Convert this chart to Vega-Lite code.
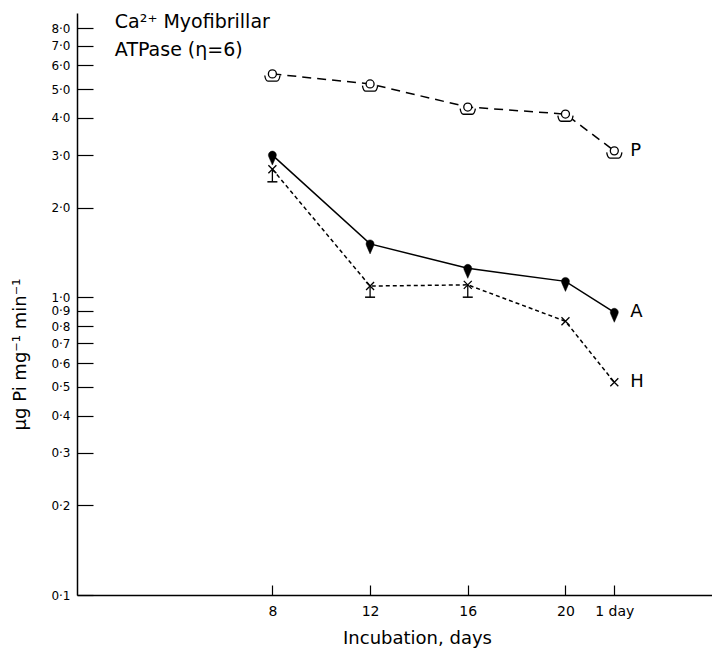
{
  "$schema": "https://vega.github.io/schema/vega-lite/v6.json",
  "width": 635,
  "height": 582,
  "autosize": {"type": "none"},
  "padding": {"left": 77, "top": 13, "right": 0, "bottom": 60},
  "config": {
    "font": "DejaVu Sans",
    "view": {"stroke": null},
    "axis": {"grid": false, "domainColor": "black", "domainWidth": 1.5, "tickColor": "black", "tickWidth": 1.2, "labelColor": "black", "titleColor": "black", "labelFont": "DejaVu Sans", "titleFont": "DejaVu Sans", "titleFontWeight": "normal", "labelOverlap": false}
  },
  "datasets": {
    "pts": [
      {"series": "P", "day": 8, "value": 5.62},
      {"series": "P", "day": 12, "value": 5.2},
      {"series": "P", "day": 16, "value": 4.35},
      {"series": "P", "day": 20, "value": 4.12},
      {"series": "P", "day": 22, "value": 3.1, "label": "P"},
      {"series": "A", "day": 8, "value": 3.0},
      {"series": "A", "day": 12, "value": 1.51},
      {"series": "A", "day": 16, "value": 1.25},
      {"series": "A", "day": 20, "value": 1.13},
      {"series": "A", "day": 22, "value": 0.89, "label": "A"},
      {"series": "H", "day": 8, "value": 2.69, "lo": 2.44},
      {"series": "H", "day": 12, "value": 1.09, "lo": 1.0},
      {"series": "H", "day": 16, "value": 1.1, "lo": 1.0},
      {"series": "H", "day": 20, "value": 0.83},
      {"series": "H", "day": 22, "value": 0.518, "label": "H"}
    ],
    "notes": [
      {"day": 1.55, "value": 8.39, "text": "Ca²⁺ Myofibrillar"},
      {"day": 1.55, "value": 6.76, "text": "ATPase (η=6)"}
    ]
  },
  "encoding": {
    "x": {
      "field": "day", "type": "quantitative",
      "scale": {"domain": [0, 26], "nice": false, "zero": false},
      "axis": {
        "title": "Incubation,  days", "values": [8, 12, 16, 20, 22],
        "labelExpr": "datum.value == 22 ? '1 day' : datum.label",
        "tickSize": -10, "labelPadding": 19, "labelFontSize": 14,
        "titleFontSize": 18, "titleX": 340, "titleY": 43, "titleBaseline": "middle"
      }
    },
    "y": {
      "field": "value", "type": "quantitative",
      "scale": {"type": "log", "domain": [0.1, 9], "nice": false},
      "axis": {
        "title": "μg Pi  mg⁻¹ min⁻¹",
        "values": [0.1, 0.2, 0.3, 0.4, 0.5, 0.6, 0.7, 0.8, 0.9, 1, 2, 3, 4, 5, 6, 7, 8],
        "labelExpr": "replace(format(datum.value, '.1f'), '.', '·')",
        "tickSize": -16, "labelPadding": 23, "labelFontSize": 12,
        "titleFontSize": 18, "titleX": -57, "titleY": 341, "titleAngle": -90, "titleBaseline": "middle"
      }
    }
  },
  "layer": [
    {
      "data": {"name": "pts"},
      "transform": [{"filter": "datum.series == 'P'"}],
      "mark": {"type": "line", "color": "black", "strokeWidth": 1.5, "strokeDash": [9, 6]}
    },
    {
      "data": {"name": "pts"},
      "transform": [{"filter": "datum.series == 'A'"}],
      "mark": {"type": "line", "color": "black", "strokeWidth": 1.5}
    },
    {
      "data": {"name": "pts"},
      "transform": [{"filter": "datum.series == 'H'"}],
      "mark": {"type": "line", "color": "black", "strokeWidth": 1.5, "strokeDash": [4, 3]}
    },
    {
      "data": {"name": "pts"},
      "transform": [{"filter": "datum.lo != null"}],
      "mark": {"type": "rule", "color": "black", "strokeWidth": 1.3},
      "encoding": {"y2": {"field": "lo"}}
    },
    {
      "data": {"name": "pts"},
      "transform": [{"filter": "datum.lo != null"}],
      "mark": {"type": "point", "shape": "M -1,0 L 1,0", "filled": false, "stroke": "black", "strokeWidth": 1.5, "size": 100, "opacity": 1},
      "encoding": {"y": {"field": "lo", "type": "quantitative"}}
    },
    {
      "data": {"name": "pts"},
      "transform": [{"filter": "datum.series == 'P'"}],
      "mark": {"type": "point", "shape": "M -0.5,0 A 0.5,0.5 0 1,1 0.5,0 A 0.5,0.5 0 1,1 -0.5,0 Z M -0.95,0.2 Q -0.85,0.9 -0.55,0.9 L 0.55,0.9 Q 0.85,0.9 0.95,0.2", "filled": true, "fill": "white", "stroke": "black", "strokeWidth": 1.3, "size": 256, "opacity": 1, "fillOpacity": 1}
    },
    {
      "data": {"name": "pts"},
      "transform": [{"filter": "datum.series == 'A'"}],
      "mark": {"type": "point", "shape": "M -0.45,0.22 A 0.5,0.5 0 1,1 0.45,0.22 L 0,1.25 Z", "filled": true, "fill": "black", "stroke": "black", "strokeWidth": 0.5, "size": 256, "opacity": 1}
    },
    {
      "data": {"name": "pts"},
      "transform": [{"filter": "datum.series == 'H'"}],
      "mark": {"type": "point", "shape": "M -0.5,-0.5 L 0.5,0.5 M -0.5,0.5 L 0.5,-0.5", "filled": false, "stroke": "black", "strokeWidth": 1.3, "size": 256, "opacity": 1}
    },
    {
      "data": {"name": "pts"},
      "transform": [{"filter": "datum.label != null"}],
      "mark": {"type": "text", "align": "left", "baseline": "middle", "dx": 16, "fontSize": 18, "color": "black"},
      "encoding": {"text": {"field": "label"}}
    },
    {
      "data": {"name": "notes"},
      "mark": {"type": "text", "align": "left", "baseline": "middle", "fontSize": 19, "color": "black"},
      "encoding": {"text": {"field": "text"}}
    }
  ]
}
